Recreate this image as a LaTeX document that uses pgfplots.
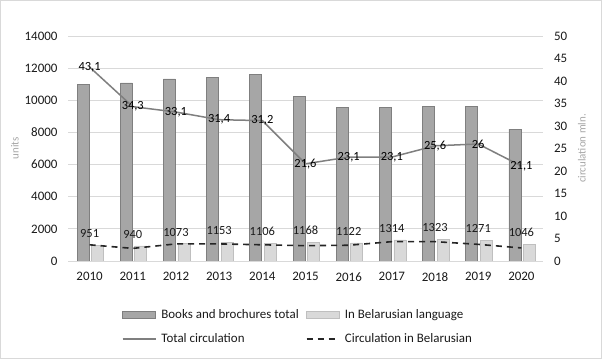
\documentclass[border=0pt]{standalone}
\usepackage{pgfplots}
\pgfplotsset{compat=1.18}
\usepackage{fontspec}
\setmainfont{Carlito}
\definecolor{bigbar}{HTML}{A6A6A6}
\definecolor{bigedge}{HTML}{7F7F7F}
\definecolor{smallbar}{HTML}{D9D9D9}
\definecolor{smalledge}{HTML}{BFBFBF}
\definecolor{gridc}{HTML}{D9D9D9}
\definecolor{txt}{HTML}{1A1A1A}
\definecolor{lbl}{HTML}{A6A6A6}
\definecolor{linec}{HTML}{7F7F7F}
\definecolor{dashc}{HTML}{262626}
\begin{document}
\begin{tikzpicture}
\useasboundingbox (0,0) rectangle (602bp,359bp);
\draw[color=gridc, line width=0.8bp] (0.5bp,0.5bp) rectangle (601.5bp,358.5bp);
\pgfplotsset{
  common/.style={
    at={(68bp,98bp)}, anchor=south west, scale only axis,
    width=475bp, height=225bp,
    xmin=-0.5, xmax=10.5,
    axis line style={draw=none}, tick style={draw=none},
    font=\fontsize{13}{15}\selectfont, tick label style={text=txt},
    scaled y ticks=false,
    /pgf/number format/assume math mode=true,
    /pgf/number format/1000 sep={},
  }
}
\begin{axis}[common,
  ymin=0, ymax=14000, ytick={0,2000,...,14000},
  ymajorgrids, grid style={color=gridc, line width=0.9bp},
  xtick={0,...,10}, xticklabels={2010,2011,2012,2013,2014,2015,2016,2017,2018,2019,2020},
  xticklabel style={yshift=-8bp},
  yticklabel style={xshift=-7bp},
  ylabel={units}, ylabel style={at={(axis description cs:-0.112,0.5)}, anchor=center, text=lbl, font=\fontsize{11}{13}\selectfont},
  legend style={at={(axis description cs:0.113,-0.205)}, anchor=north west, draw=none, fill=none,
    legend columns=2, inner sep=0pt, row sep=10bp,
    font=\fontsize{13}{15}\selectfont, text=txt,
    /tikz/every odd column/.append style={column sep=3bp},
    /tikz/every even column/.append style={column sep=5bp}},
  legend cell align=left,
]
\addplot[ybar, bar width=12bp, bar shift=-6.5bp, fill=bigbar, draw=bigedge, line width=0.7bp,
  legend image code/.code={\draw[fill=bigbar, draw=bigedge, line width=0.7bp] (0bp,-3.5bp) rectangle (33bp,3.5bp);}]
  coordinates {(0,11000) (1,11080) (2,11330) (3,11400) (4,11600) (5,10250) (6,9560) (7,9560) (8,9640) (9,9600) (10,8210)};
\addlegendentry{Books and brochures total}
\addplot[ybar, bar width=12bp, bar shift=8bp, fill=smallbar, draw=smalledge, line width=0.7bp,
  nodes near coords, nodes near coords style={anchor=south, yshift=4bp, text=txt, font=\fontsize{12.5}{14}\selectfont},
  legend image code/.code={\draw[fill=smallbar, draw=smalledge, line width=0.7bp] (0bp,-3.5bp) rectangle (33bp,3.5bp);}]
  coordinates {(0,951) (1,940) (2,1073) (3,1153) (4,1106) (5,1168) (6,1122) (7,1314) (8,1323) (9,1271) (10,1046)};
\addlegendentry{In Belarusian language}
\addlegendimage{legend image code/.code={\draw[color=linec, line width=1.5bp] (0bp,0bp) -- (33bp,0bp);}}
\addlegendentry{Total circulation}
\addlegendimage{legend image code/.code={\draw[color=dashc, line width=1.6bp, dash pattern=on 6bp off 5bp] (0bp,0bp) -- (30bp,0bp);}}
\addlegendentry{Circulation in Belarusian}
\end{axis}
\begin{axis}[common,
  ymin=0, ymax=50, ytick={0,5,...,50},
  axis y line*=right, xtick=\empty,
  yticklabel style={xshift=7.5bp},
  ylabel={circulation mln.}, ylabel style={at={(axis description cs:1.082,0.5)}, anchor=center, text=lbl, font=\fontsize{11}{13}\selectfont},
]
\addplot[color=linec, line width=1.5bp, mark=none,
  nodes near coords={\pgfmathprintnumber[use comma,fixed,precision=1]{\pgfplotspointmeta}},
  nodes near coords style={anchor=center, text=black, font=\fontsize{12.5}{14}\selectfont}]
  coordinates {(0,43.1) (1,34.3) (2,33.1) (3,31.4) (4,31.2) (5,21.6) (6,23.1) (7,23.1) (8,25.6) (9,26) (10,21.1)};
\addplot[color=dashc, line width=1.6bp, dash pattern=on 6bp off 5bp, mark=none]
  coordinates {(0,3.6) (1,2.8) (2,3.8) (3,3.8) (4,3.6) (5,3.4) (6,3.5) (7,4.3) (8,4.3) (9,3.7) (10,2.9)};
\end{axis}
\end{tikzpicture}
\end{document}
